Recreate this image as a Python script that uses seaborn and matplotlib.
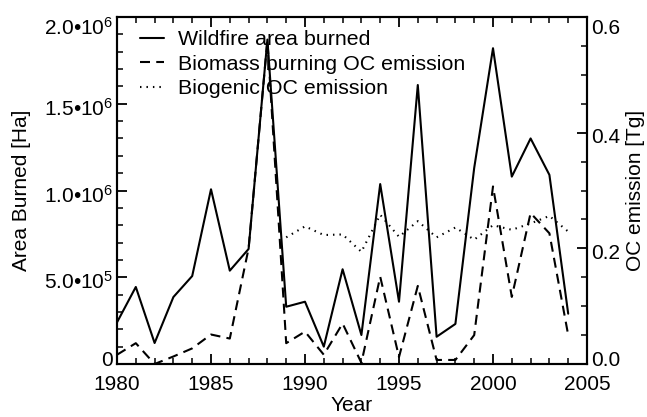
import numpy as np
import pandas as pd
import matplotlib
matplotlib.use("Agg")
import matplotlib.pyplot as plt
import matplotlib.transforms as mtrans
from matplotlib.ticker import FixedLocator, MultipleLocator
import seaborn as sns

years = list(range(1980, 2005))
area_burned = [0.24e6, 0.444e6, 0.121e6, 0.386e6, 0.507e6, 1.007e6, 0.538e6, 0.663e6,
               1.87e6, 0.33e6, 0.359e6, 0.10e6, 0.546e6, 0.167e6, 1.037e6, 0.359e6,
               1.608e6, 0.157e6, 0.231e6, 1.13e6, 1.82e6, 1.08e6, 1.30e6, 1.09e6, 0.29e6]
bb_oc = [0.016, 0.036, 0.0, 0.013, 0.027, 0.051, 0.044, 0.20,
         0.56, 0.036, 0.056, 0.016, 0.070, 0.002, 0.151, 0.012,
         0.135, 0.007, 0.007, 0.050, 0.307, 0.116, 0.261, 0.226, 0.050]
bio_years = list(range(1989, 2005))
bio_oc = [0.219, 0.238, 0.223, 0.224, 0.194, 0.258, 0.220, 0.247,
          0.219, 0.236, 0.215, 0.240, 0.232, 0.243, 0.256, 0.229]

left_ticks = [0, 5e5, 1e6, 1.5e6, 2e6]
left_labels = ["0", "5.0•10$^{5}$", "1.0•10$^{6}$", "1.5•10$^{6}$", "2.0•10$^{6}$"]
right_ticks = [0.0, 0.2, 0.4, 0.6]
right_labels = ["0.0", "0.2", "0.4", "0.6"]
x_ticks = [1980, 1985, 1990, 1995, 2000, 2005]

sns.set_style("white")
plt.rcParams.update({
    "font.family": ["Liberation Sans", "DejaVu Sans"],
    "mathtext.fontset": "custom",
    "mathtext.rm": "Liberation Sans",
    "mathtext.it": "Liberation Sans:italic",
    "mathtext.bf": "Liberation Sans:bold",
    "axes.edgecolor": "black",
    "xtick.color": "black",
    "ytick.color": "black",
    "text.color": "black",
    "axes.labelcolor": "black",
    "xtick.direction": "in",
    "ytick.direction": "in",
    "xtick.major.size": 7,
    "xtick.minor.size": 4,
    "ytick.major.size": 7,
    "ytick.minor.size": 4,
    "xtick.major.width": 1.3,
    "xtick.minor.width": 1.1,
    "ytick.major.width": 1.3,
    "ytick.minor.width": 1.1,
    "xtick.bottom": True,
    "xtick.top": True,
    "ytick.left": True,
    "ytick.right": True,
})

df1 = pd.DataFrame({"Year": years, "Area": area_burned, "BB": bb_oc})
df2 = pd.DataFrame({"Year": bio_years, "Bio": bio_oc})

fig = plt.figure(figsize=(6.47, 4.17), dpi=100)
ax = fig.add_axes([117/647, 53/417, 470/647, 347/417])
ax2 = ax.twinx()

sns.lineplot(data=df1, x="Year", y="Area", ax=ax, color="black", lw=1.5,
             label="Wildfire area burned", legend=False)
sns.lineplot(data=df1, x="Year", y="BB", ax=ax2, color="black", lw=1.5,
             linestyle=(0, (4.8, 3.0)), label="Biomass burning OC emission", legend=False)
sns.lineplot(data=df2, x="Year", y="Bio", ax=ax2, color="black", lw=1.5,
             linestyle=(0, (0.7, 2.4)), label="Biogenic OC emission", legend=False)

fs = 15
ax.set_xlim(1980, 2005)
ax.set_ylim(0, 2e6)
ax2.set_ylim(0, 0.6)

ax.xaxis.set_major_locator(FixedLocator(x_ticks))
ax.xaxis.set_minor_locator(MultipleLocator(1))
ax.set_xticklabels([str(t) for t in x_ticks], fontsize=fs)
ax.yaxis.set_major_locator(FixedLocator(left_ticks))
ax.yaxis.set_minor_locator(MultipleLocator(1e5))
ax.set_yticklabels(left_labels, fontsize=fs)
ax2.yaxis.set_major_locator(FixedLocator(right_ticks))
ax2.yaxis.set_minor_locator(MultipleLocator(0.05))
ax2.set_yticklabels(right_labels, fontsize=fs)

ax.tick_params(axis="x", which="both", direction="in", top=True, bottom=True, pad=8)
ax.tick_params(axis="y", which="both", direction="in", left=True, right=False, pad=3)
ax2.tick_params(axis="y", which="both", direction="in", right=True, left=False, pad=3)


def shift(lbl, dy_px):
    lbl.set_transform(lbl.get_transform() +
                      mtrans.ScaledTranslation(0, -dy_px / 100.0, fig.dpi_scale_trans))


for a in (ax, ax2):
    labels = a.get_yticklabels()
    n = len(labels)
    for i, lbl in enumerate(labels):
        if i == 0:
            shift(lbl, -5)
        elif i == n - 1:
            shift(lbl, 9)
        else:
            shift(lbl, 3)

for a in (ax, ax2):
    for s in a.spines.values():
        s.set_visible(True)
        s.set_linewidth(1.5)
        s.set_color("black")

ax.set_xlabel("Year", fontsize=fs, labelpad=1.5)
ax.set_ylabel("Area Burned [Ha]", fontsize=fs, labelpad=9)
ax2.set_ylabel("OC emission [Tg]", fontsize=fs, labelpad=4)

h1, l1 = ax.get_legend_handles_labels()
h2, l2 = ax2.get_legend_handles_labels()
leg = ax2.legend(h1 + h2, l1 + l2, loc="upper left", frameon=False, fontsize=15.4,
                 handlelength=1.1, handletextpad=0.7, labelspacing=0.26,
                 borderaxespad=0.0, borderpad=0.0, bbox_to_anchor=(23/470, 1 - 13/347))

fig.savefig("out.png", dpi=100)
